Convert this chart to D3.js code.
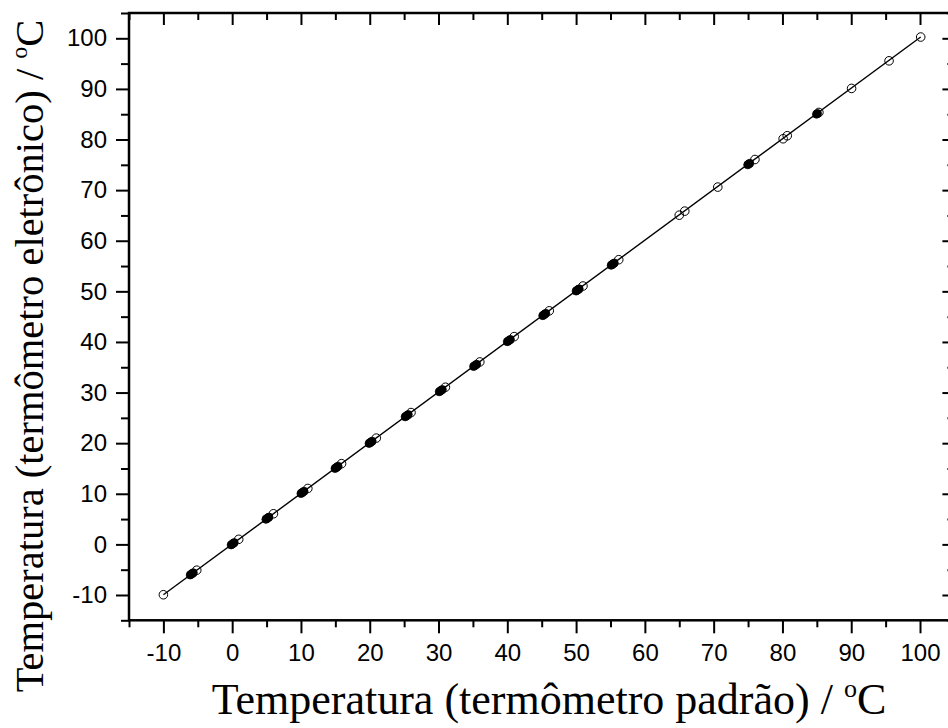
<!DOCTYPE html>
<html><head><meta charset="utf-8">
<script src="https://cdn.jsdelivr.net/npm/d3@7"></script>
<style>
html,body{margin:0;padding:0;background:#fff;}
svg{display:block;}
</style></head>
<body>
<svg id="chart" width="948" height="728"></svg>
<script>
// Repeated readings (dense, drawn as filled markers): standard (x) vs electronic (y), °C
const denseStd = [
  -6.10, -5.95, -5.80, -5.65,
  -0.15, 0.00, 0.15, 0.30,
  4.90, 5.05, 5.20, 5.35,
  10.00, 10.15, 10.30, 10.45,
  14.95, 15.10, 15.25, 15.40,
  19.90, 20.05, 20.20, 20.35,
  25.15, 25.30, 25.45, 25.60,
  30.10, 30.25, 30.40, 30.55,
  35.10, 35.25, 35.40, 35.55,
  40.00, 40.15, 40.30, 40.45,
  45.15, 45.30, 45.45, 45.60,
  50.00, 50.15, 50.30, 50.45,
  55.10, 55.25, 55.40, 55.55,
  74.95, 75.10, 75.25,
  84.95, 85.10
];
const denseElec = [
  -6.05, -5.90, -5.75, -5.60,
  -0.10, 0.05, 0.20, 0.35,
  4.95, 5.10, 5.25, 5.40,
  10.05, 10.20, 10.35, 10.50,
  15.00, 15.15, 15.30, 15.45,
  19.95, 20.10, 20.25, 20.40,
  25.20, 25.35, 25.50, 25.65,
  30.15, 30.30, 30.45, 30.60,
  35.15, 35.30, 35.45, 35.60,
  40.05, 40.20, 40.35, 40.50,
  45.20, 45.35, 45.50, 45.65,
  50.05, 50.20, 50.35, 50.50,
  55.15, 55.30, 55.45, 55.60,
  75.00, 75.15, 75.30,
  85.00, 85.15
];
// Single readings (open circles)
const openStd = [-10.0, -5.15, 0.95, 6.00, 11.00, 15.90, 20.95, 26.00, 31.00, 36.00, 41.00, 46.10, 51.00, 56.20,
  65.00, 65.80, 70.60, 76.00, 80.10, 80.70, 85.30, 90.05, 95.50, 100.10];
const openElec = [-9.95, -5.10, 1.00, 6.05, 11.05, 15.95, 21.00, 26.05, 31.05, 36.05, 41.05, 46.15, 51.05, 56.25,
  65.05, 65.85, 70.60, 76.05, 80.15, 80.75, 85.35, 90.10, 95.55, 100.25];
// Linear fit line end points
const fitX = [-10.0, 100.1];
const fitY = [-9.95, 100.25];

const majorTicks = [-10, 0, 10, 20, 30, 40, 50, 60, 70, 80, 90, 100];
const minorTicks = [-15, -5, 5, 15, 25, 35, 45, 55, 65, 75, 85, 95, 105];
const xTitle = "Temperatura (termômetro padrão) / ";
const yTitle = "Temperatura (termômetro eletrônico) / ";

const svg = d3.select("#chart");
const L = 129, R = 954.4, T = 13, B = 620.3;
const x = d3.scaleLinear().domain([-15, 105]).range([L, R]);
const y = d3.scaleLinear().domain([-15, 105]).range([B, T]);

const tickFont = "'Liberation Sans', Arial, sans-serif";
const titleFont = "'Liberation Serif', 'Times New Roman', serif";
const fmt = d => String(d);

function styleAxis(g) {
  g.select(".domain").remove();
  g.selectAll("line").attr("stroke", "#000").attr("stroke-width", 2);
}

// Bottom axis
const gB = svg.append("g").attr("transform", `translate(0,${B})`);
gB.call(d3.axisBottom(x).tickValues(minorTicks).tickSize(7).tickFormat(""));
styleAxis(gB);
const gB2 = svg.append("g").attr("transform", `translate(0,${B})`);
gB2.call(d3.axisBottom(x).tickValues(majorTicks).tickSize(13).tickPadding(11).tickFormat(fmt));
styleAxis(gB2);
gB2.selectAll("text").attr("font-family", tickFont).attr("font-size", 24).attr("fill", "#000");

// Left axis
const gL = svg.append("g").attr("transform", `translate(${L},0)`);
gL.call(d3.axisLeft(y).tickValues(minorTicks).tickSize(8).tickFormat(""));
styleAxis(gL);
const gL2 = svg.append("g").attr("transform", `translate(${L},0)`);
gL2.call(d3.axisLeft(y).tickValues(majorTicks).tickSize(13).tickPadding(9).tickFormat(fmt));
styleAxis(gL2);
gL2.selectAll("text").attr("font-family", tickFont).attr("font-size", 24).attr("fill", "#000");

// Top axis (ticks inward)
const gT = svg.append("g").attr("transform", `translate(0,${T})`);
gT.call(d3.axisBottom(x).tickValues(minorTicks).tickSize(7).tickFormat(""));
styleAxis(gT);
const gT2 = svg.append("g").attr("transform", `translate(0,${T})`);
gT2.call(d3.axisBottom(x).tickValues(majorTicks).tickSize(12).tickFormat(""));
styleAxis(gT2);

// Right axis (ticks inward)
const gR = svg.append("g").attr("transform", `translate(${R},0)`);
gR.call(d3.axisLeft(y).tickValues(minorTicks).tickSize(7).tickFormat(""));
styleAxis(gR);
const gR2 = svg.append("g").attr("transform", `translate(${R},0)`);
gR2.call(d3.axisLeft(y).tickValues(majorTicks).tickSize(12).tickFormat(""));
styleAxis(gR2);

// Frame
svg.append("rect").attr("x", L).attr("y", T).attr("width", R - L).attr("height", B - T)
  .attr("fill", "none").attr("stroke", "#000").attr("stroke-width", 2.5);

// Fit line
const line = d3.line().x(d => x(d[0])).y(d => y(d[1]));
svg.append("path").datum(fitX.map((v, i) => [v, fitY[i]]))
  .attr("d", line).attr("fill", "none").attr("stroke", "#000").attr("stroke-width", 1.4);

// Dense points (filled)
svg.append("g").selectAll("circle")
  .data(denseStd.map((v, i) => [v, denseElec[i]]))
  .join("circle")
  .attr("cx", d => x(d[0])).attr("cy", d => y(d[1])).attr("r", 4)
  .attr("fill", "#000").attr("stroke", "#000").attr("stroke-width", 0.8);

// Open circles
svg.append("g").selectAll("circle")
  .data(openStd.map((v, i) => [v, openElec[i]]))
  .join("circle")
  .attr("cx", d => x(d[0])).attr("cy", d => y(d[1])).attr("r", 4.3)
  .attr("fill", "none").attr("stroke", "#000").attr("stroke-width", 1);

// Axis titles
const xt = svg.append("text").attr("x", 549).attr("y", 714)
  .attr("text-anchor", "middle").attr("font-family", titleFont).attr("font-size", 44).attr("fill", "#000");
xt.append("tspan").text(xTitle);
xt.append("tspan").attr("font-size", 26).attr("dy", -17).text("o");
xt.append("tspan").attr("dy", 17).text("C");

const yt = svg.append("text").attr("transform", `translate(43,356) rotate(-90)`)
  .attr("text-anchor", "middle").attr("font-family", titleFont).attr("font-size", 40.5).attr("fill", "#000");
yt.append("tspan").text(yTitle);
yt.append("tspan").attr("font-size", 24).attr("dy", -16).text("o");
yt.append("tspan").attr("dy", 16).text("C");
</script>
</body></html>
